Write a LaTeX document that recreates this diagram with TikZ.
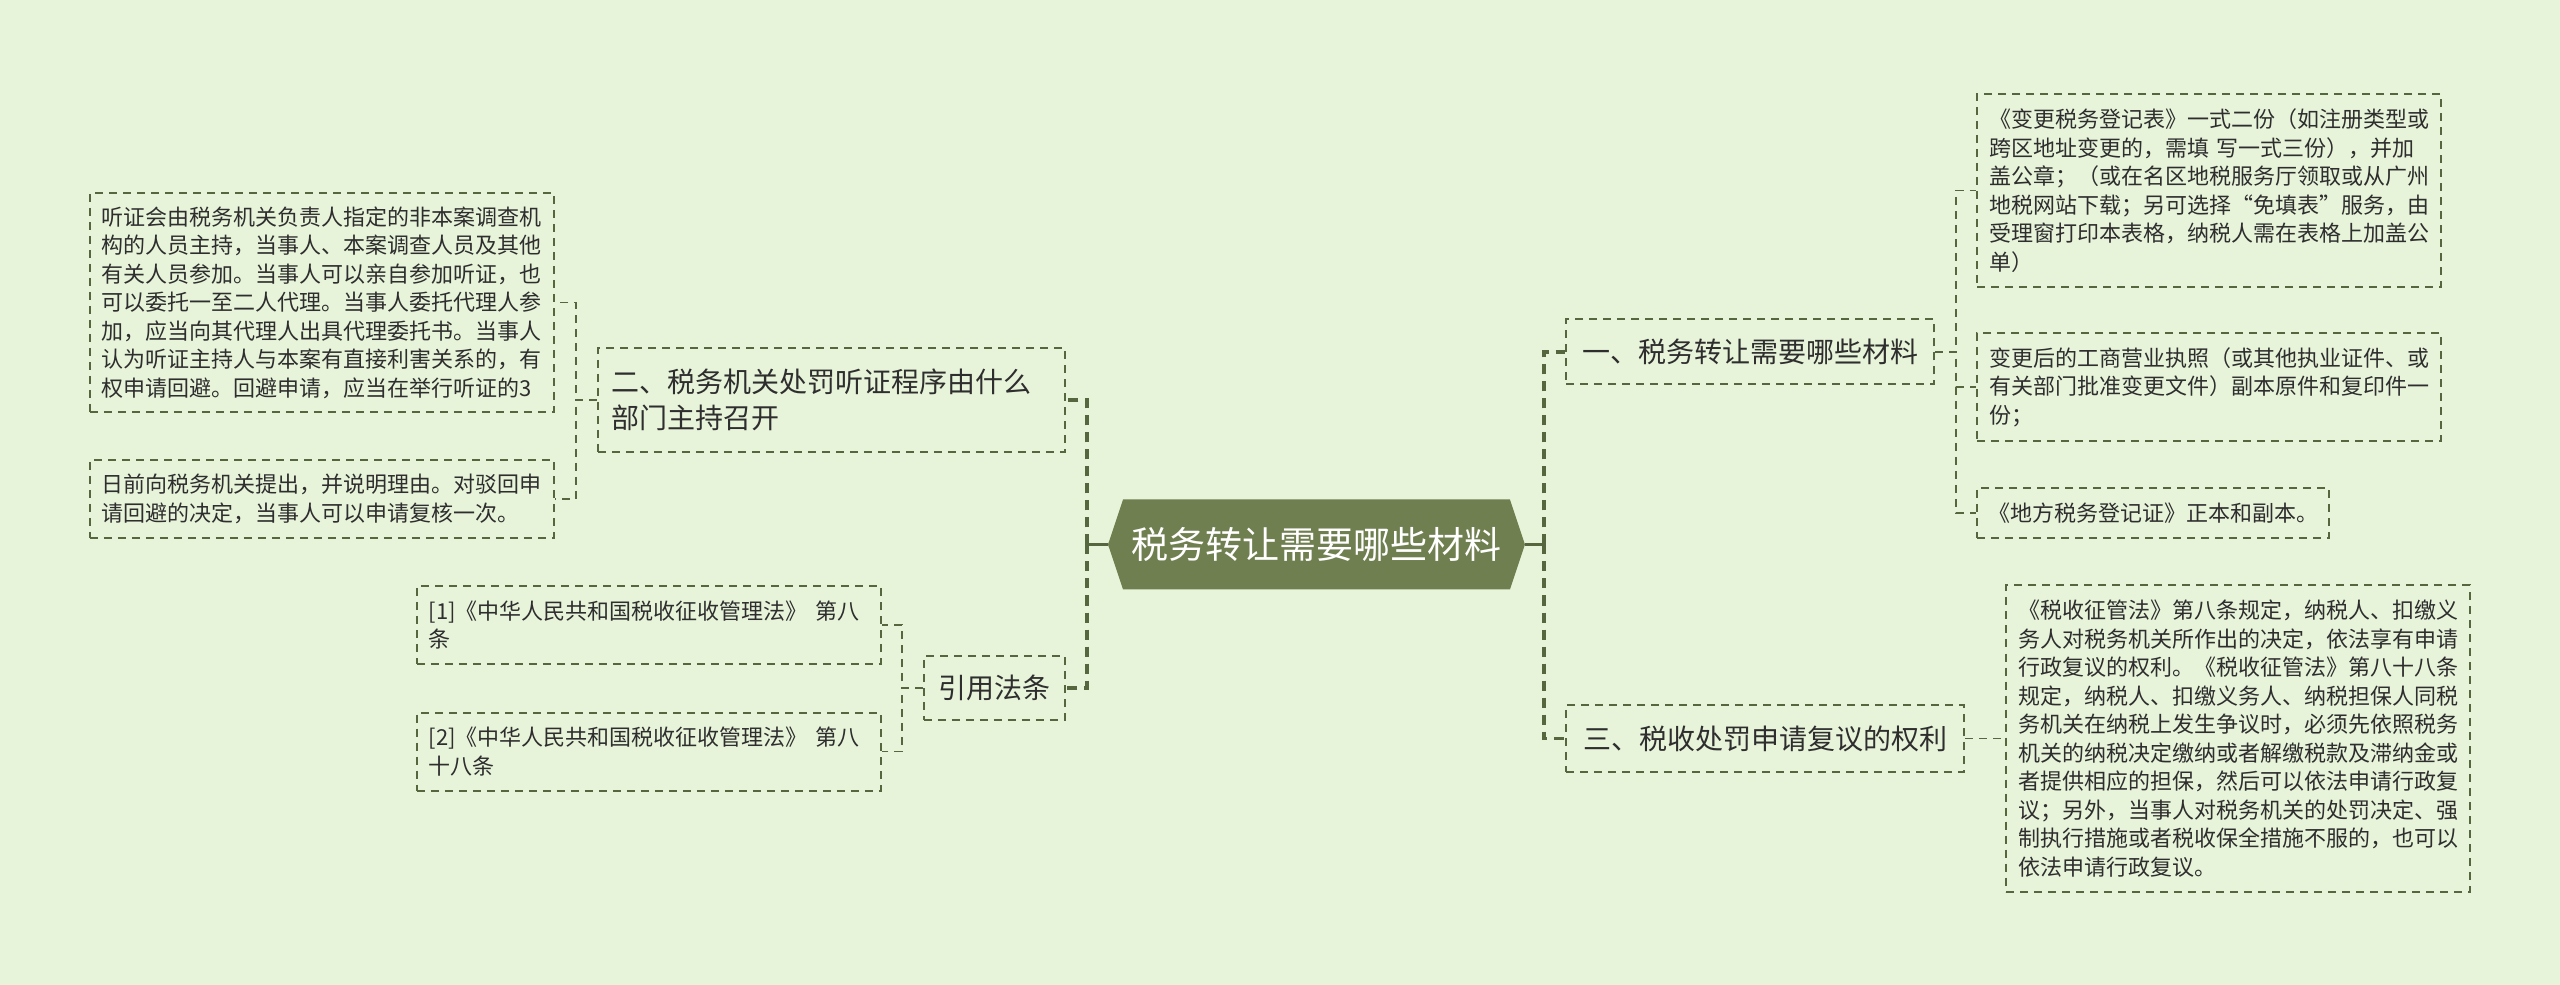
\documentclass[tikz,border=0pt]{standalone}
\usepackage{fontspec}
\newfontfamily\zhfont{Noto Sans CJK SC}
\usepackage{xcolor}
\usetikzlibrary{positioning, shapes.symbols}

\definecolor{bgcol}{HTML}{E7F4DA}
\definecolor{olive}{HTML}{6F7F50}
\definecolor{linecol}{HTML}{56663F}
\definecolor{txtcol}{HTML}{2E2E2E}

\begin{document}
\begin{tikzpicture}[
    font=\zhfont,
    rootbox/.style={signal, signal to=west and east, signal pointer angle=143, fill=olive, text=white, font=\zhfont\fontsize{37}{44}\selectfont, minimum width=417pt, minimum height=90pt, inner sep=0pt},
    topic/.style={draw=linecol, line width=2pt, dash pattern=on 8pt off 6pt, text=txtcol, align=left, font=\zhfont\fontsize{28}{36}\selectfont, inner xsep=14pt},
    leaf/.style={draw=linecol, line width=2pt, dash pattern=on 8pt off 6pt, text=txtcol, align=left, font=\zhfont\fontsize{22}{28.5}\selectfont, text width=440pt, inner xsep=12pt},
    stub/.style={draw=linecol, line width=3.5pt},
    trunk/.style={draw=linecol, line width=3.5pt, dash pattern=on 10pt off 7pt},
    link/.style={draw=linecol, line width=1.8pt, dash pattern=on 8pt off 6pt}
]

% Canvas
\useasboundingbox (-1316.5pt,544.5pt) rectangle (1243.5pt,-440.5pt);
\fill[bgcol] (-1316.5pt,544.5pt) rectangle (1243.5pt,-440.5pt);

% Centre
\node[rootbox] (root) at (0,0) {税务转让需要哪些材料};

% Left Column
\node[topic, left=42pt of root, yshift=144.5pt, text width=439pt, minimum height=104pt] (hearing) {二、税务机关处罚听证程序由什么\\部门主持召开};
\node[topic, left=42pt of root, yshift=-143.5pt, minimum width=141pt, minimum height=64pt] (cite) {引用法条};

\node[leaf, left=42pt of hearing, yshift=97.5pt, minimum height=219pt] (hostA) {听证会由税务机关负责人指定的非本案调查机\\构的人员主持，当事人、本案调查人员及其他\\有关人员参加。当事人可以亲自参加听证，也\\可以委托一至二人代理。当事人委托代理人参\\加，应当向其代理人出具代理委托书。当事人\\认为听证主持人与本案有直接利害关系的，有\\权申请回避。回避申请，应当在举行听证的3};
\node[leaf, left=42pt of hearing, yshift=-99pt, minimum height=78pt] (hostB) {日前向税务机关提出，并说明理由。对驳回申\\请回避的决定，当事人可以申请复核一次。};

\node[leaf, left=41pt of cite, yshift=63pt, minimum height=78pt] (lawA) {[1]《中华人民共和国税收征收管理法》 第八\\条};
\node[leaf, left=41pt of cite, yshift=-63.5pt, minimum height=78pt] (lawB) {[2]《中华人民共和国税收征收管理法》 第八\\十八条};

% Right Column
\node[topic, right=40pt of root, yshift=192.5pt, minimum width=368pt, minimum height=65pt] (matl) {一、税务转让需要哪些材料};
\node[topic, right=40pt of root, yshift=-194pt, minimum width=398pt, minimum height=67pt] (review) {三、税收处罚申请复议的权利};

\node[leaf, right=41pt of matl, yshift=161.5pt, minimum height=193pt] (formA) {《变更税务登记表》一式二份（如注册类型或\\跨区地址变更的，需填 写一式三份），并加\\盖公章；（或在名区地税服务厅领取或从广州\\地税网站下载；另可选择“免填表”服务，由\\受理窗打印本表格，纳税人需在表格上加盖公\\单）};
\node[leaf, right=41pt of matl, yshift=-35pt, minimum height=108pt] (licence) {变更后的工商营业执照（或其他执业证件、或\\有关部门批准变更文件）副本原件和复印件一\\份；};
\node[leaf, right=41pt of matl, yshift=-161pt, text width=330pt, inner xsep=11pt, minimum height=50pt] (regcert) {《地方税务登记证》正本和副本。};

\node[leaf, right=40pt of review, minimum height=306pt] (reviewtext) {《税收征管法》第八条规定，纳税人、扣缴义\\务人对税务机关所作出的决定，依法享有申请\\行政复议的权利。《税收征管法》第八十八条\\规定，纳税人、扣缴义务人、纳税担保人同税\\务机关在纳税上发生争议时，必须先依照税务\\机关的纳税决定缴纳或者解缴税款及滞纳金或\\者提供相应的担保，然后可以依法申请行政复\\议；另外，当事人对税务机关的处罚决定、强\\制执行措施或者税收保全措施不服的，也可以\\依法申请行政复议。};

% Connections
% root -> left topics
\draw[stub] (root.west) -- ++(-21pt,0) coordinate (lhub);
\draw[trunk] (lhub) |- (hearing.east);
\draw[trunk] (lhub) |- (cite.east);

% root -> right topics
\draw[stub] (root.east) -- ++(19pt,0) coordinate (rhub);
\draw[trunk] (rhub) |- (matl.west);
\draw[trunk] (rhub) |- (review.west);

% topics -> leaves
\draw[link] (hearing.west) -- ++(-21pt,0) |- (hostA.east);
\draw[link] (hearing.west) -- ++(-21pt,0) |- (hostB.east);
\draw[link] (cite.west) -- ++(-21pt,0) |- (lawA.east);
\draw[link] (cite.west) -- ++(-21pt,0) |- (lawB.east);
\draw[link] (matl.east) -- ++(21pt,0) |- (formA.west);
\draw[link] (matl.east) -- ++(21pt,0) |- (licence.west);
\draw[link] (matl.east) -- ++(21pt,0) |- (regcert.west);
\draw[link] (review.east) -- (reviewtext.west);

\end{tikzpicture}
\end{document}
